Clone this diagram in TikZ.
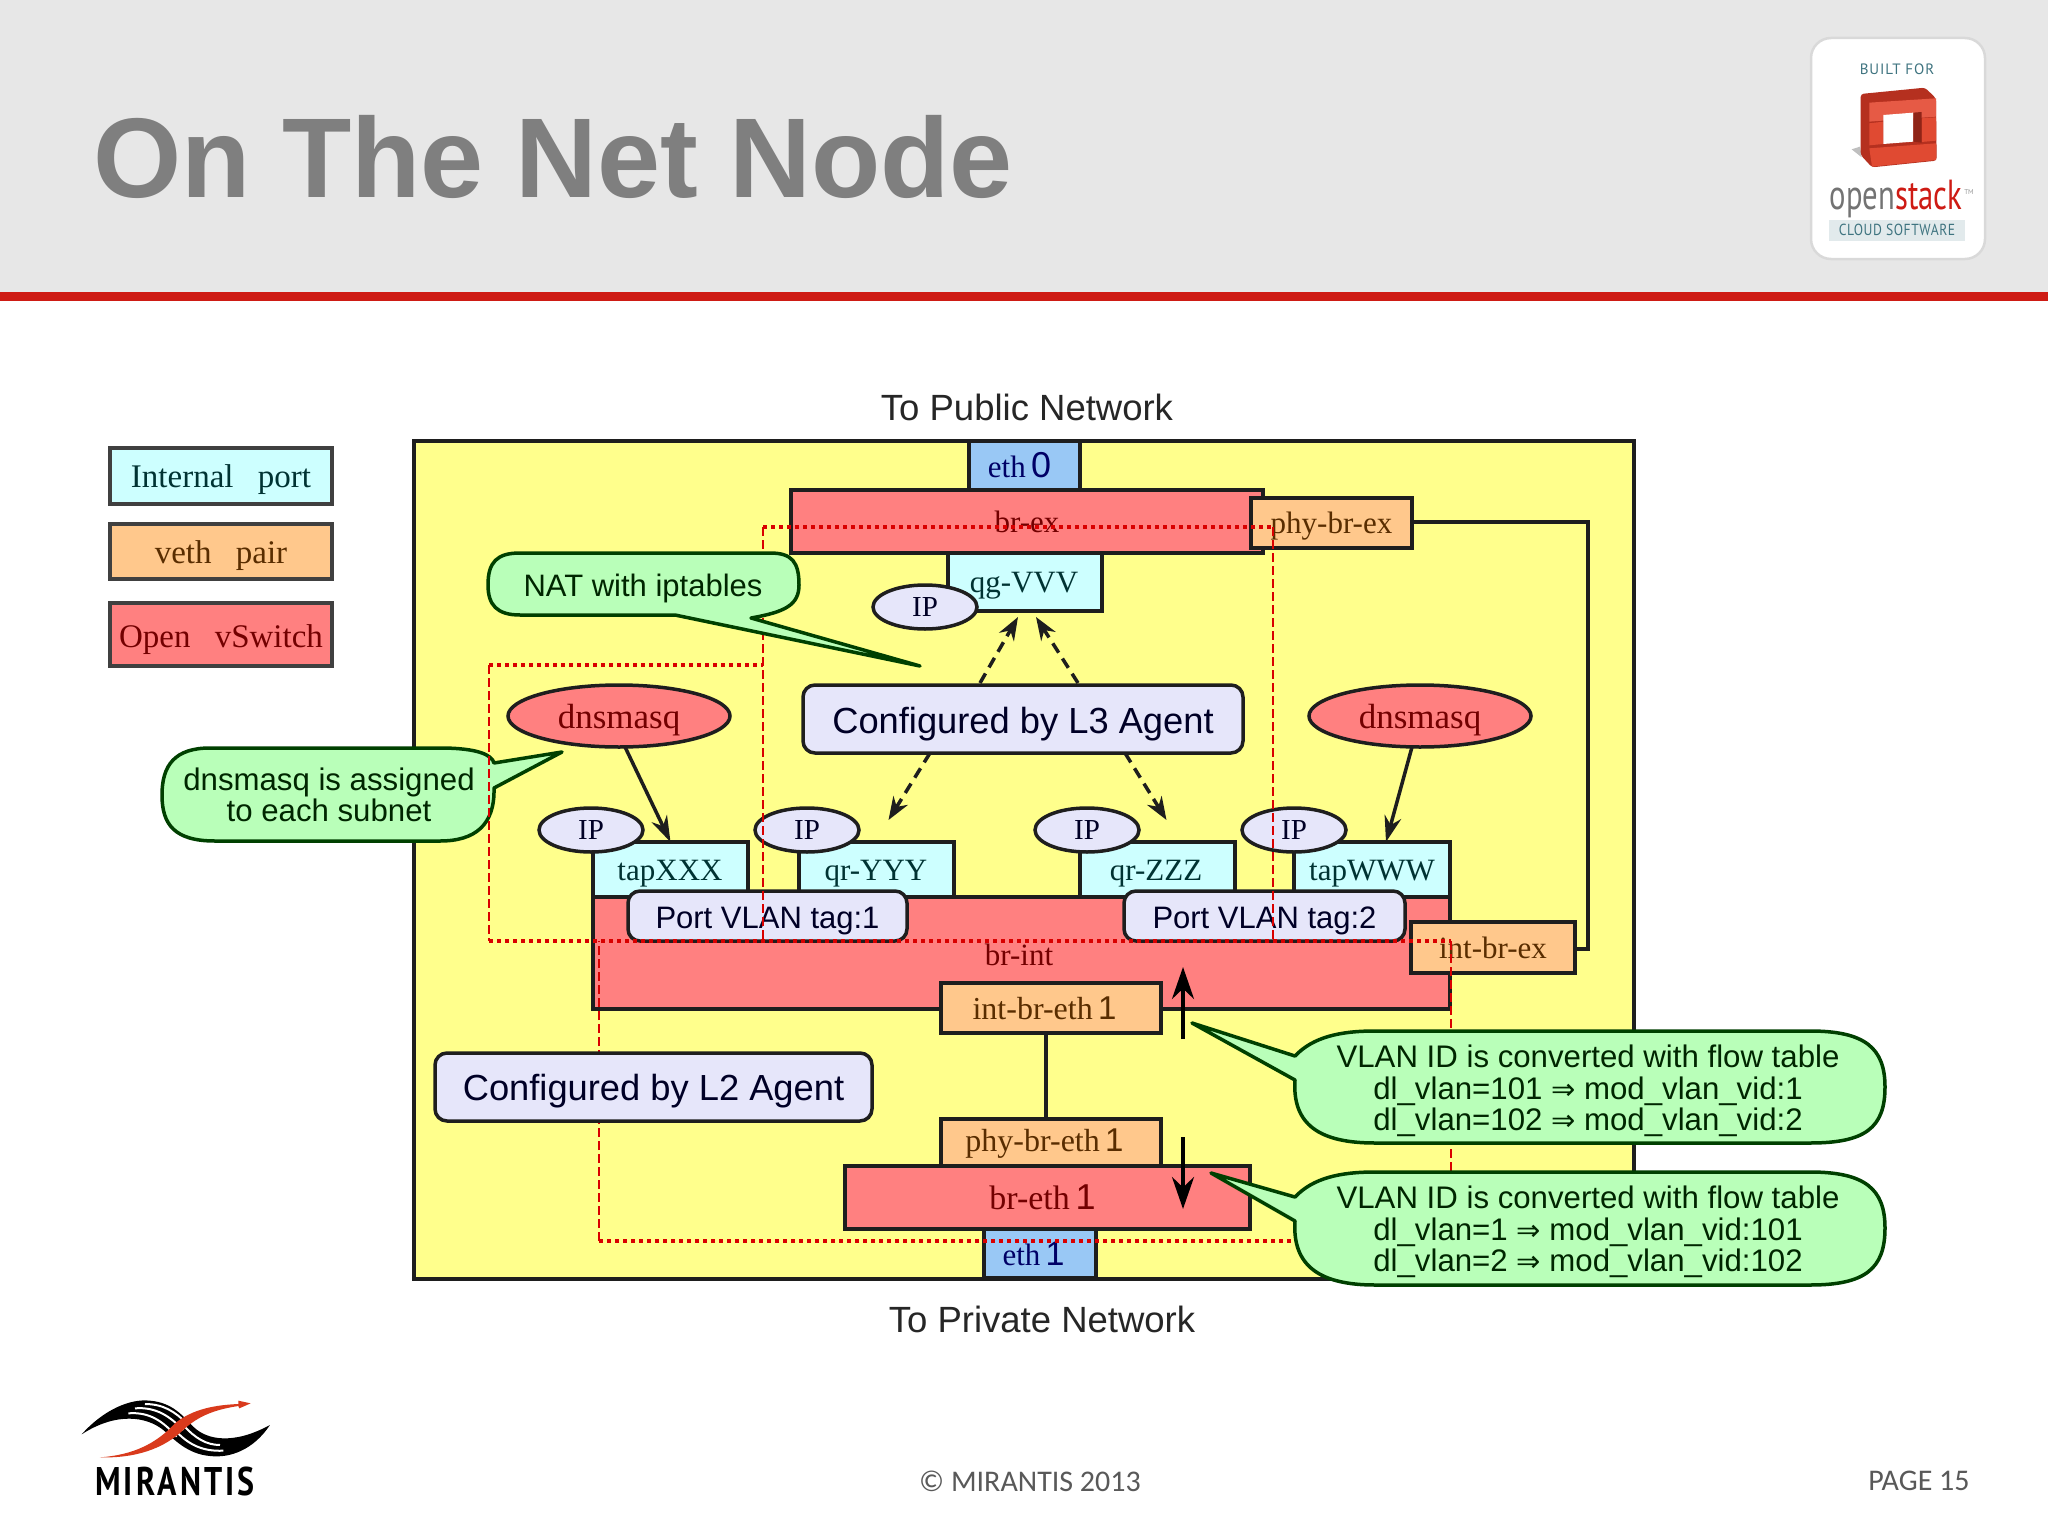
\documentclass[tikz,border=0pt]{standalone}
\usepackage{fontspec}
\setmainfont{Liberation Serif}
\setsansfont{Liberation Sans}
\newfontfamily\djv{DejaVu Sans}
\newfontfamily\carl{Carlito}
\newfontfamily\ptsans{PT Sans}
\usetikzlibrary{arrows.meta,shapes.geometric}
\definecolor{hdrgray}{HTML}{E7E7E7}
\definecolor{hdrred}{HTML}{CE1B14}
\definecolor{titlegray}{HTML}{7F7F7F}
\definecolor{yel}{HTML}{FFFF8C}
\definecolor{cyanb}{HTML}{CDFFFF}
\definecolor{blueb}{HTML}{99C8F5}
\definecolor{redb}{HTML}{FF8080}
\definecolor{orab}{HTML}{FFC88C}
\definecolor{lav}{HTML}{E6E6FA}
\definecolor{greenb}{HTML}{B9FFB9}
\definecolor{edge}{HTML}{1E1E1E}
\definecolor{osteal}{HTML}{3F7480}
\definecolor{cubedark}{HTML}{B5301F}
\definecolor{cubeface}{HTML}{E04A32}
\definecolor{cubelight}{HTML}{E65A45}
\definecolor{cubedeep}{HTML}{8F2417}
\definecolor{swoosh}{HTML}{D93A1C}
\newcommand{\fsz}[1]{\fontsize{#1}{#1}\selectfont}
\newcommand{\rz}[2]{\raisebox{-#1pt}[0pt][0pt]{#2}}
\newcommand{\bx}[7]{%
  \pgfmathsetmacro\ww{#5-#3}\pgfmathsetmacro\hh{#6-#4}%
  \pgfmathsetmacro\cx{(#3+#5)/2}\pgfmathsetmacro\cy{(#4+#6)/2}%
  \node[#2,minimum width=\ww pt,minimum height=\hh pt] (#1) at (\cx,\cy) {#7};}
\tikzset{
  base/.style={draw=edge,line width=3.5pt,inner sep=0pt,outer sep=0pt,font=\fsz{31}},
  cyanbox/.style={base,fill=cyanb,text=black!60!teal},
  bluebox/.style={base,fill=blueb,text=black!60!blue},
  redbox/.style={base,fill=redb,text=black!55!red},
  orabox/.style={base,fill=orab,text=black!65!orange},
  lavbox/.style={base,fill=lav,rounded corners=12pt,text=black!85!blue,font=\sffamily\fsz{36.3}},
  tagbox/.style={lavbox,font=\sffamily\fsz{31}},
  ipnode/.style={ellipse,draw=edge,line width=3.5pt,fill=lav,inner sep=0pt,outer sep=0pt,minimum width=104pt,minimum height=44pt,font=\fsz{29},text=black!85!blue},
  dnsnode/.style={ellipse,draw=edge,line width=3.5pt,fill=redb,inner sep=0pt,outer sep=0pt,minimum width=222pt,minimum height=62pt,font=\fsz{35},text=black!55!red},
  legend/.style={base,draw=black!75,line width=4pt,font=\fsz{33}},
  callout/.style={draw=black!75!green,line width=3.5pt,fill=greenb,line join=round},
  callouttext/.style={align=center,inner sep=0pt,text=black!85!green,font=\sffamily\fontsize{31.2}{31.5}\selectfont},
  plainsans/.style={inner sep=0pt,font=\sffamily\fsz{36.5},text=black!85},
  netdashv/.style={draw=red!85!black,line width=2.6pt,dash pattern=on 9pt off 4pt},
  netdashh/.style={draw=red!85!black,line width=3.6pt,dash pattern=on 4pt off 4pt},
  link/.style={draw=edge,line width=3.5pt},
  cfgarrow/.style={draw=edge,line width=3.5pt,dash pattern=on 11pt off 7pt,-{Stealth[length=23pt,width=17pt]}},
  solidarrow/.style={draw=edge,line width=3.5pt,-{Stealth[length=26pt,width=17pt]}},
  flowarrow/.style={draw=black,line width=3.5pt,-{Stealth[length=32pt,width=22pt]}},
}
\begin{document}
\begin{tikzpicture}[x=1pt,y=-1pt]
\useasboundingbox (0,0) rectangle (2048,1536);
\fill[white] (0,0) rectangle (2048,1536);
% header
\fill[hdrgray] (0,0) rectangle (2048,293);
\fill[hdrred] (0,292) rectangle (2048,301);
\node[anchor=base west,inner sep=0pt,text=titlegray,font=\sffamily\bfseries\fsz{113.4}] (title) at (93,197) {On The Net Node};
% OpenStack badge
\draw[draw=black!15,line width=2.5pt,fill=white,rounded corners=20pt] (1811,38) rectangle (1985,259);
\node[inner sep=0pt,text=osteal,font=\ptsans\fsz{15}] (built) at (1897,69) {\addfontfeatures{LetterSpace=6}BUILT FOR};
\begin{scope}[shift={(1750,20)},x=0.3333pt,y=-0.3333pt]
  \fill[black!25] (330,380) -- (305,388) -- (335,412) -- cycle;
  \fill[cubedark,rounded corners=3pt] (332,222) -- (525,203) -- (558,235) -- (560,422) -- (366,442) -- (332,405) -- cycle;
  \fill[cubelight] (358,248) -- (558,235) -- (558,290) -- (358,305) -- cycle;
  \fill[cubeface] (358,310) -- (400,305) -- (400,372) -- (358,376) -- cycle;
  \fill[cubeface] (515,295) -- (558,292) -- (558,362) -- (515,366) -- cycle;
  \fill[cubeface] (358,385) -- (558,370) -- (558,420) -- (366,440) -- cycle;
  \fill[white] (400,285) -- (490,278) -- (490,365) -- (400,372) -- cycle;
  \fill[cubedeep] (490,278) -- (515,276) -- (515,368) -- (490,365) -- cycle;
\end{scope}
\node[anchor=base,inner sep=0pt,font=\ptsans\fsz{42}] (openstack) at (1896,209) {\scalebox{.73}[1]{\textcolor{black!55}{open}\textcolor{hdrred}{stack}}};
\node[inner sep=0pt,text=black!40,font=\ptsans\fsz{7}] (tm) at (1969,192) {TM};
\fill[osteal!15] (1829,220) rectangle (1965,241);
\node[inner sep=0pt,text=osteal,font=\ptsans\fsz{16}] (cloud) at (1897,230) {\scalebox{.85}[1]{\addfontfeatures{LetterSpace=4}CLOUD SOFTWARE}};
% footer
\node[inner sep=0pt,text=black!65,font=\carl\fsz{30}] (copyr) at (1030,1481) {© MIRANTIS 2013};
\node[inner sep=0pt,text=black!65,font=\carl\fsz{30}] (page) at (1919,1481) {PAGE 15};
% Mirantis logo
\begin{scope}[shift={(60,1380)},x=0.3333pt,y=-0.3333pt]
  \fill[black] (65,163) .. controls (130,90) and (210,55) .. (270,62) .. controls (340,68) and (370,110) .. (400,140) .. controls (440,180) and (520,195) .. (630,135) .. controls (580,210) and (510,235) .. (450,228) .. controls (380,222) and (340,175) .. (310,150) .. controls (260,110) and (170,95) .. (65,163) -- cycle;
  \draw[white,line width=2pt] (205,100) .. controls (270,95) and (310,125) .. (350,170);
  \draw[white,line width=2pt] (225,85) .. controls (290,80) and (330,110) .. (370,150);
  \draw[white,line width=2pt] (255,72) .. controls (310,72) and (345,95) .. (380,130);
  \draw[white,line width=2pt] (345,150) .. controls (385,195) and (430,215) .. (490,212);
  \draw[white,line width=2pt] (370,135) .. controls (405,175) and (440,195) .. (480,195);
  \fill[swoosh] (120,232) .. controls (220,225) and (290,190) .. (345,130) .. controls (400,85) and (470,75) .. (535,72) -- (535,62) -- (572,70) -- (538,85) -- (535,78) .. controls (470,88) and (420,105) .. (375,145) .. controls (310,210) and (220,235) .. (120,232) -- cycle;
\end{scope}
\node[inner sep=0pt,anchor=base,font=\ptsans\bfseries\fsz{40}] (mirantis) at (175,1495) {\scalebox{.8}[1]{\addfontfeatures{LetterSpace=10}MIRANTIS}};
% legend
\bx{leg1}{legend,fill=cyanb,text=black!60!teal}{110}{448}{332}{504}{\rz{11.6}{Internal\hspace{16pt} port}}
\bx{leg2}{legend,fill=orab,text=black!65!orange}{110}{524}{332}{579}{\rz{11.6}{veth\hspace{16pt} pair}}
\bx{leg3}{legend,fill=redb,text=black!55!red}{110}{603}{332}{666}{\rz{12.6}{Open\hspace{16pt} vSwitch}}
% titles
\node[plainsans] (pub) at (1027,407) {To Public Network};
\node[plainsans] (priv) at (1042,1319) {To Private Network};
% host
\bx{host}{base,fill=yel}{414}{441}{1634}{1279}{}
% switches
\bx{eth0}{bluebox}{969}{441}{1080}{490}{eth\,{\sffamily\fsz{36}0}\hspace*{10pt}}
\bx{brex}{redbox}{791}{490}{1263}{553}{br-ex}
\bx{phybrex}{orabox}{1251}{498}{1412}{548}{\rz{10}{phy-br-ex}}
\bx{qg}{cyanbox}{948}{553}{1102}{611}{}
\node[inner sep=0pt,text=black!60!teal,font=\fsz{31}] (qglabel) at (1024,586) {qg-VVV};
\bx{tapX}{cyanbox}{593}{842}{748}{897}{}
\bx{qrY}{cyanbox}{799}{842}{954}{897}{}
\bx{qrZ}{cyanbox}{1080}{842}{1235}{897}{}
\bx{tapW}{cyanbox}{1294}{842}{1450}{897}{}
\node[inner sep=0pt,text=black!60!teal,font=\fsz{31}] (tapXl) at (670,874) {tapXXX};
\node[inner sep=0pt,text=black!60!teal,font=\fsz{31}] (qrYl) at (876,874) {qr-YYY};
\node[inner sep=0pt,text=black!60!teal,font=\fsz{31}] (qrZl) at (1156,874) {qr-ZZZ};
\node[inner sep=0pt,text=black!60!teal,font=\fsz{31}] (tapWl) at (1372,874) {tapWWW};
\bx{brint}{redbox}{593}{897}{1450}{1009}{}
\node[inner sep=0pt,text=black!55!red,font=\fsz{31}] (brintl) at (1019,955) {br-int};
\bx{tag1}{tagbox}{628}{891}{907}{941}{\rz{12}{Port VLAN tag:1}}
\bx{tag2}{tagbox}{1124}{891}{1405}{941}{\rz{12}{Port VLAN tag:2}}
\bx{intbrex}{orabox}{1411}{922}{1575}{973}{int-br-ex}
\bx{intbreth}{orabox}{941}{983}{1161}{1033}{\fsz{32}int-br-eth\,{\sffamily\fsz{33}1}\hspace*{13pt}}
\bx{phybreth}{orabox}{941}{1119}{1161}{1169}{\fsz{32}phy-br-eth\,{\sffamily\fsz{33}1}\hspace*{13pt}}
\bx{breth}{redbox}{845}{1166}{1250}{1229}{\fsz{34}br-eth\,{\sffamily\fsz{36}1}\hspace*{10pt}}
\bx{eth1}{bluebox}{984}{1229}{1096}{1278}{eth\,{\sffamily\fsz{34}1}\hspace*{13pt}}
\draw[link] ([xshift=-5pt]phybreth.north) -- ([xshift=-5pt]intbreth.south);
\coordinate (rtop) at (1588,522);
\coordinate (rbot) at (1588,949);
\draw[link] (phybrex.east |- rtop) -- (rtop) -- (rbot) -- (intbrex.east |- rbot);
% IP ellipses
\node[ipnode] (ipqg) at (925,607) {IP};
\node[ipnode] (ipX) at (591,830) {IP};
\node[ipnode] (ipY) at (807,830) {IP};
\node[ipnode] (ipZ) at (1087,830) {IP};
\node[ipnode] (ipW) at (1294,830) {IP};
% dnsmasq
\node[dnsnode] (dns1) at (619,716) {\rz{12}{dnsmasq}};
\node[dnsnode] (dns2) at (1420,716) {\rz{12}{dnsmasq}};
\draw[solidarrow] (dns1.281) -- (tapX.north);
\draw[solidarrow] ([xshift=-8pt]dns2.south) -- ([xshift=14pt]tapW.north);
% dnsmasq callout
\draw[callout] (210,748) -- (440,748) .. controls (478,748) and (492,755) .. (494,763) -- (562,752) -- (494,788) .. controls (495,825) and (475,841) .. (440,841) -- (215,841) .. controls (175,841) and (162,825) .. (162,795) .. controls (162,765) and (175,748) .. (210,748) -- cycle;
\node[callouttext] (dnscallout) at (329,795) {dnsmasq is assigned\\to each subnet};
% red dashed regions
\coordinate (a) at (763,527); \coordinate (b) at (1273,527);
\coordinate (c) at (763,665); \coordinate (d) at (489,665);
\coordinate (e) at (489,941); \coordinate (f) at (1451,941);
\coordinate (g) at (1451,1241); \coordinate (h) at (599,1241);
\coordinate (i) at (599,941); \coordinate (j) at (763,941); \coordinate (k) at (1273,941);
\draw[netdashv] (a) -- (j);
\draw[netdashv] (b) -- (k);
\draw[netdashv] (d) -- (e);
\draw[netdashv] (f) -- (g);
\draw[netdashv] (h) -- (i);
\draw[netdashh] (a) -- (b);
\draw[netdashh] (d) -- (c);
\draw[netdashh] (e) -- (f);
\draw[netdashh] (g) -- (h);
% L3 / L2 config
\bx{lthree}{lavbox}{803}{685}{1243}{753}{\rz{14.4}{Configured by L3 Agent}}
\bx{ltwo}{lavbox}{435}{1053}{872}{1121}{\rz{13.4}{Configured by L2 Agent}}
\draw[cfgarrow] ([xshift=-43pt,yshift=2pt]lthree.north) -- ([xshift=-7pt,yshift=-6pt]qg.south);
\draw[cfgarrow] ([xshift=55pt,yshift=2pt]lthree.north) -- ([xshift=11pt,yshift=-6pt]qg.south);
\draw[cfgarrow] ([xshift=-93pt]lthree.south) -- ([xshift=12pt,yshift=22pt]qrY.north);
\draw[cfgarrow] ([xshift=102pt]lthree.south) -- ([xshift=9pt,yshift=22pt]qrZ.north);
% NAT callout
\draw[callout] (520,553) -- (770,553) .. controls (792,553) and (799,562) .. (799,585) .. controls (799,605) and (785,612) .. (751,618) -- (920,666) -- (675,615) -- (520,615) .. controls (497,615) and (488,605) .. (488,585) .. controls (488,562) and (497,553) .. (520,553) -- cycle;
\node[callouttext,font=\sffamily\fsz{31}] (nat) at (643,588) {NAT with iptables};
% flow arrows
\coordinate (upA) at (1183,1039); \coordinate (upB) at (1183,967);
\coordinate (dnA) at (1183,1137); \coordinate (dnB) at (1183,1209);
\draw[flowarrow] (upA) -- (upB);
\draw[flowarrow] (dnA) -- (dnB);
% flow callouts
\draw[callout] (1192,1023) -- (1295,1056) .. controls (1313,1037) and (1340,1031) .. (1375,1031) -- (1810,1031) .. controls (1865,1031) and (1885,1048) .. (1885,1087) .. controls (1885,1128) and (1865,1143) .. (1810,1143) -- (1375,1143) .. controls (1320,1143) and (1292,1125) .. (1295,1080) -- cycle;
\node[callouttext] (flow1) at (1588,1091) {VLAN ID is converted with flow table\\dl\_vlan=101 {\djv\fsz{29}⇒} mod\_vlan\_vid:1\\dl\_vlan=102 {\djv\fsz{29}⇒} mod\_vlan\_vid:2};
\draw[callout] (1211,1173) -- (1295,1197) .. controls (1313,1178) and (1340,1172) .. (1375,1172) -- (1810,1172) .. controls (1865,1172) and (1885,1189) .. (1885,1228) .. controls (1885,1269) and (1865,1285) .. (1810,1285) -- (1375,1285) .. controls (1320,1285) and (1292,1266) .. (1295,1221) -- cycle;
\node[callouttext] (flow2) at (1588,1232) {VLAN ID is converted with flow table\\dl\_vlan=1 {\djv\fsz{29}⇒} mod\_vlan\_vid:101\\dl\_vlan=2 {\djv\fsz{29}⇒} mod\_vlan\_vid:102};
\end{tikzpicture}
\end{document}
